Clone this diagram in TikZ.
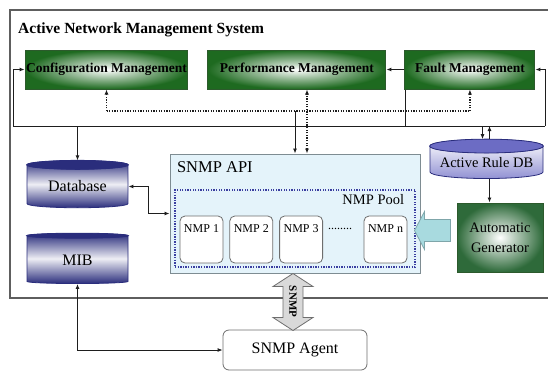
\documentclass[tikz,border=0pt]{standalone}
\usepackage{fontspec}
\setmainfont{Liberation Serif}
\usetikzlibrary{arrows.meta,calc,positioning,shapes.geometric}
\definecolor{Ink}{HTML}{1E1E1E}
\definecolor{Frame}{HTML}{5E5E5E}
\definecolor{Edge}{HTML}{6E6E6E}
\definecolor{MgrDark}{HTML}{1E6A20}
\definecolor{MgrEdge}{HTML}{2C5A2C}
\definecolor{GenDark}{HTML}{2E6A3A}
\definecolor{ApiFill}{HTML}{E4F3FA}
\definecolor{ApiEdge}{HTML}{7E8C92}
\definecolor{PoolDot}{HTML}{3A3EA0}
\definecolor{Navy}{HTML}{2A2D7C}
\definecolor{RuleTop}{HTML}{6C6CC4}
\definecolor{Teal}{HTML}{A8DADF}
\definecolor{TealEdge}{HTML}{7FA6AA}
\definecolor{Pale}{HTML}{D9D9D9}

\begin{document}
\begin{tikzpicture}[
  x=1pt,y=-1pt,
  >={Latex[length=5pt,width=4pt]},
  frame/.style={draw=Frame,line width=1.5pt},
  mgr/.style={
    draw=MgrEdge,line width=1pt,inner color=white,outer color=MgrDark,
    minimum height=39pt,inner sep=1pt,font=\bfseries\fontsize{13.5}{15}\selectfont
  },
  cyl/.style={
    cylinder,shape border rotate=90,aspect=0.14,draw=Navy,line width=0.8pt,
    inner sep=0pt,font=\fontsize{16}{16}\selectfont
  },
  darkcyl/.style={cyl,top color=Navy,bottom color=Navy,middle color=Navy!8},
  nmp/.style={
    draw=Edge,fill=white,rounded corners=5pt,line width=0.8pt,minimum width=43pt,
    text height=13pt,text depth=28pt,inner ysep=3pt,font=\fontsize{12}{12}\selectfont
  },
  arr/.style={->,draw=Ink,line width=0.9pt},
  line/.style={draw=Ink,line width=0.9pt},
  dot/.style={draw=Ink,line width=1.3pt,dash pattern=on 1.3pt off 1.3pt},
  dotarr/.style={dot,->}
]
  \useasboundingbox (0,0) rectangle (548,370);

  % outer system frame
  \draw[frame] (548,10) -- (10,10) -- (10,298) -- (548,298);
  \node[anchor=base west,inner sep=0pt,font=\bfseries\fontsize{15.5}{15.5}\selectfont] (title) at (18,33) {Active Network Management System};

  % managers
  \node[mgr,minimum width=161pt] (cfg) at (106.5,69.5) {Configuration Management};
  \node[mgr,minimum width=178pt,right=19pt of cfg] (perf) {Performance Management};
  \node[mgr,minimum width=130pt,right=18pt of perf] (flt) {Fault Management};

  % databases
  \node[darkcyl,minimum width=101pt,minimum height=47pt] (db) at (77.5,186.5) {Database};
  \node[darkcyl,minimum width=101pt,minimum height=50pt,below=25pt of db] (mib) {MIB};
  \node[cyl,top color=white,bottom color=RuleTop!75,minimum width=113pt,minimum height=39pt,
        font=\fontsize{14.5}{14.5}\selectfont] (ardb) at (486.5,162.5) {Active Rule DB};
  \foreach \c/\col in {db/Navy,mib/Navy,ardb/RuleTop}
    \filldraw[fill=\col,draw=Navy,line width=0.8pt]
      let \p1=(\c.before top), \p2=(\c.after top), \p3=(\c.top) in
      ($(\p1)!.5!(\p2)$) ellipse ({veclen(\x2-\x1,\y2-\y1)/2*1pt} and {veclen(\x3-\x1/2-\x2/2,\y3-\y1/2-\y2/2)*1pt});

  % generator
  \node[draw=MgrEdge,line width=1pt,inner color=white,outer color=GenDark,minimum width=86pt,
        minimum height=69pt,align=center,font=\fontsize{14.5}{20}\selectfont] (gen) at (500,237.5) {Automatic\\Generator};

  % SNMP API and pool
  \node[draw=ApiEdge,fill=ApiFill,line width=1pt,minimum width=250pt,minimum height=119pt] (api) at (295,213.5) {};
  \node[anchor=north west,font=\fontsize{16.5}{16.5}\selectfont] (apititle) at ([xshift=4pt,yshift=-5pt]api.north west) {SNMP API};
  \node[draw=PoolDot,line width=1.3pt,dash pattern=on 1.3pt off 1.3pt,minimum width=240pt,minimum height=77pt] (pool) at (295,228.5) {};
  \node[anchor=north east,font=\fontsize{14.5}{14.5}\selectfont] (pooltitle) at ([xshift=-8pt,yshift=-2pt]pool.north east) {NMP Pool};
  \node[nmp] (nmp1) at (201.5,239.5) {NMP 1};
  \node[nmp,right=6pt of nmp1] (nmp2) {NMP 2};
  \node[nmp,right=6pt of nmp2] (nmp3) {NMP 3};
  \node[nmp] (nmpn) at (385.5,239.5) {NMP n};
  \node[font=\fontsize{12}{12}\selectfont,inner sep=0pt] (dots) at (340,229) {........};

  % agent
  \node[draw=Edge,fill=white,rounded corners=6pt,line width=0.8pt,minimum width=144pt,
        minimum height=40pt,font=\fontsize{16}{16}\selectfont] (agent) at (295,350) {SNMP Agent};

  % bus
  \coordinate (busL) at (13,126);
  \coordinate (busR) at (545,126);
  \coordinate (dotbus) at (0,111);
  \draw[line] (busL) -- (busR);
  \draw[arr] (busL) |- (cfg.west);
  \draw[arr] (busR) |- (flt.east);
  \draw[line] ([xshift=1pt]flt.south west) -- ([xshift=1pt]flt.south west |- busL);
  \draw[arr] (flt.west) -- (perf.east);
  \draw[arr] (busL -| db.top) -- (db.top);
  \draw[arr] ([xshift=-4pt]ardb.top |- busL) -- ([xshift=-4pt]ardb.top);
  \draw[arr] ([xshift=3pt]ardb.top) -- ([xshift=3pt]ardb.top |- busL);
  \draw[arr] ([xshift=3pt]ardb.bottom) -- ([xshift=3pt]ardb.bottom |- gen.north);

  % dotted feedback
  \draw[dot] (cfg.south |- dotbus) -- (flt.south |- dotbus);
  \draw[dotarr] (cfg.south |- dotbus) -- (cfg.south);
  \draw[dotarr] (flt.south |- dotbus) -- (flt.south);
  \draw[dotarr,<->] ([xshift=12pt]api.north) -- ([xshift=12pt]api.north |- perf.south);
  \draw[arr] (api.north |- dotbus) -- (api.north);

  \draw[arr,<->] (db.east) -- ++(20,0) |- (api.west);
  \draw[arr,<->] (mib.bottom) |- (agent.west);

  % block arrows
  \draw[draw=TealEdge,fill=Teal,line width=0.8pt] ([xshift=-6pt,yshift=7pt]gen.west) -- ++(0,-11) -- ++(-26,0) -- ++(0,-8)
    -- ++(-10,19) -- ++(10,19) -- ++(0,-8) -- ++(26,0) -- cycle;
  \draw[draw=Edge,fill=Pale,line width=0.8pt] ([xshift=-2pt]api.south) -- ++(20,13) -- ++(-10,0) -- ++(0,31) -- ++(10,0)
    -- ++(-20,13) -- ++(-20,-13) -- ++(10,0) -- ++(0,-31) -- ++(-10,0) -- cycle;
  \node[rotate=-90,inner sep=0pt,font=\bfseries\fontsize{11}{11}\selectfont] (snmp) at ($([xshift=-2pt]api.south)!.5!([xshift=-2pt]agent.north)$) {SNMP};
\end{tikzpicture}
\end{document}
